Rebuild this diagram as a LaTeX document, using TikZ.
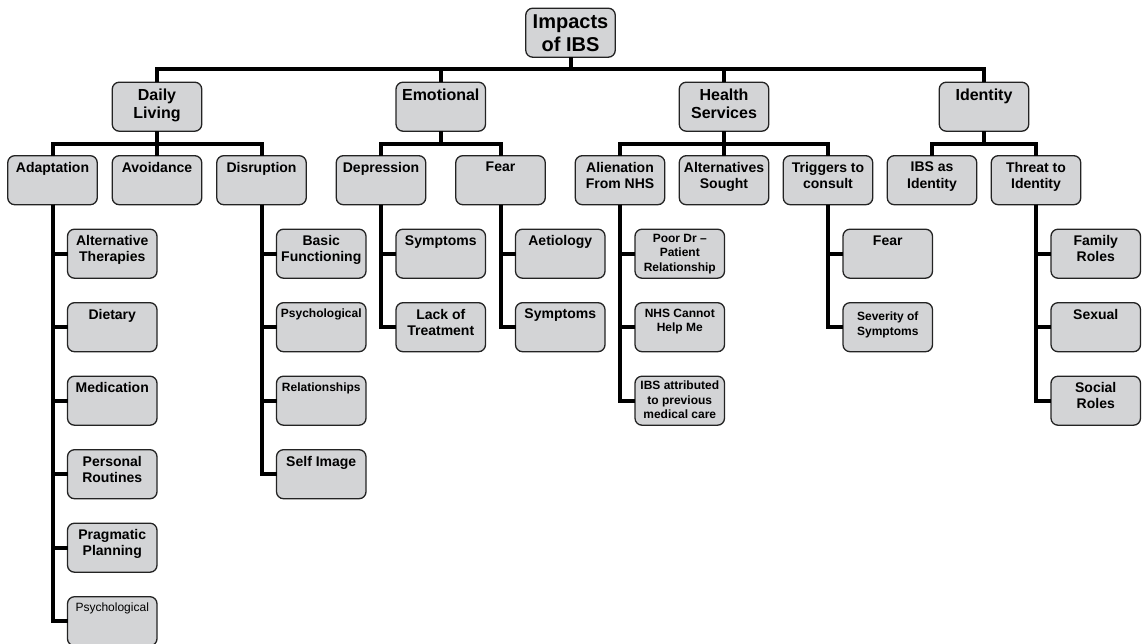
\documentclass[tikz,border=0pt]{standalone}
\usepackage{tikz}
\usepackage{xcolor}
\usepackage{fontspec}
\setmainfont{Liberation Sans}
\usetikzlibrary{positioning,calc}
\definecolor{boxgray}{RGB}{211,212,214}
\definecolor{edgegray}{RGB}{35,35,35}

\begin{document}
\begin{tikzpicture}[x=1pt, y=1pt, node distance={24.5pt and 15pt},
    main/.style = {draw=edgegray, line width=1.3pt, fill=boxgray, rounded corners=7pt, inner sep=0pt, outer sep=0pt,
        execute at begin node={\begin{minipage}[t][49pt][t]{89.5pt}\centering\vspace*{\boxgap}},
        execute at end node={\end{minipage}}},
    rootbox/.style = {main, font=\fontsize{20}{23}\selectfont\bfseries},
    catbox/.style = {main, font=\fontsize{16}{18.5}\selectfont\bfseries},
    subbox/.style = {main, font=\fontsize{14}{16.5}\selectfont\bfseries},
    leaf/.style = {main, font=\fontsize{14}{16}\selectfont\bfseries},
    smallleaf/.style = {main, font=\fontsize{12}{14.5}\selectfont\bfseries},
    plainleaf/.style = {main, font=\fontsize{12}{14.5}\selectfont},
    branch/.style = {draw=black, line width=4pt} ]
        \def\boxgap{6.5pt}
        \useasboundingbox (0,0) rectangle (1142,-643);

        \node[subbox] (DL1) at (52.5,-180.2) {Adaptation};
        \node[subbox] (DL2) [right = of DL1] {Avoidance};
        \node[subbox] (DL3) [right = of DL2] {Disruption};
        \node[subbox] (EM1) [right = 30pt of DL3] {Depression};
        \node[subbox] (EM2) [right = 30pt of EM1] {Fear};
        \node[subbox] (HS1) [right = 30pt of EM2] {Alienation\\From NHS};
        \node[subbox] (HS2) [right = 14.5pt of HS1] {Alternatives\\Sought};
        \node[subbox] (HS3) [right = 14.5pt of HS2] {Triggers to\\consult};
        \node[subbox] (ID1) [right = 14.5pt of HS3] {IBS as\\Identity};
        \node[subbox] (ID2) [right = 14.5pt of ID1] {Threat to\\Identity};

        \node[catbox] (DL) [above = of DL2] {Daily\\Living};
        \node[catbox] (EM) at ($(EM1)!.5!(EM2)+(0,73.5)$) {Emotional};
        \node[catbox] (HS) [above = of HS2] {Health\\Services};
        \node[catbox] (ID) at ($(ID1)!.5!(ID2)+(0,73.5)$) {Identity};

        \node[rootbox] (0) at ($(DL)!.5!(ID)+(0,74)$) {Impacts\\of IBS};

        \node[leaf] (DL1a) [below right = 24.5pt and 15pt of DL1.south] {Alternative\\Therapies};
        \node[leaf] (DL1b) [below = of DL1a] {Dietary};
        \node[leaf] (DL1c) [below = of DL1b] {Medication};
        \node[leaf] (DL1d) [below = of DL1c] {Personal\\Routines};
        \node[leaf] (DL1e) [below = of DL1d] {Pragmatic\\Planning};
        \node[plainleaf] (DL1f) [below = of DL1e] {Psychological};

        \node[leaf] (DL3a) [below right = 24.5pt and 15pt of DL3.south] {Basic\\Functioning};
        \node[smallleaf] (DL3b) [below = of DL3a] {Psychological};
        \node[smallleaf] (DL3c) [below = of DL3b] {Relationships};
        \node[leaf] (DL3d) [below = of DL3c] {Self Image};

        \node[leaf] (EM1a) [below right = 24.5pt and 15pt of EM1.south] {Symptoms};
        \node[leaf] (EM1b) [below = of EM1a] {Lack of\\Treatment};
        \node[leaf] (EM2a) [below right = 24.5pt and 15pt of EM2.south] {Aetiology};
        \node[leaf] (EM2b) [below = of EM2a] {Symptoms};

        \def\boxgap{5pt}
        \node[smallleaf] (HS1a) [below right = 24.5pt and 15pt of HS1.south] {Poor Dr --\\Patient\\Relationship};
        \node[smallleaf] (HS1b) [below = of HS1a] {\vspace{1pt}NHS Cannot\\Help Me};
        \node[smallleaf] (HS1c) [below = of HS1b] {IBS attributed\\to previous\\medical care};
        \def\boxgap{6.5pt}
        \node[leaf] (HS3a) [below right = 24.5pt and 15pt of HS3.south] {Fear};
        \node[smallleaf] (HS3b) [below = of HS3a] {\vspace{3pt}Severity of\\Symptoms};

        \node[leaf] (ID2a) [below right = 24.5pt and 15pt of ID2.south] {Family\\Roles};
        \node[leaf] (ID2b) [below = of ID2a] {Sexual};
        \node[leaf] (ID2c) [below = of ID2b] {Social\\Roles};

        \draw[branch] (0.south) -- ++(0,-12) -| (DL.north);
        \draw[branch] (0.south) -- ++(0,-12) -| (EM.north);
        \draw[branch] (0.south) -- ++(0,-12) -| (HS.north);
        \draw[branch] (0.south) -- ++(0,-12) -| (ID.north);

        \draw[branch] (DL.south) -- ++(0,-12.5) -| (DL1.north);
        \draw[branch] (DL.south) -- ++(0,-12.5) -| (DL3.north);
        \draw[branch] (DL.south) -- (DL2.north);
        \draw[branch] (EM.south) -- ++(0,-12.5) -| (EM1.north);
        \draw[branch] (EM.south) -- ++(0,-12.5) -| (EM2.north);
        \draw[branch] (HS.south) -- ++(0,-12.5) -| (HS1.north);
        \draw[branch] (HS.south) -- ++(0,-12.5) -| (HS3.north);
        \draw[branch] (HS.south) -- (HS2.north);
        \draw[branch] (ID.south) -- ++(0,-12.5) -| (ID1.north);
        \draw[branch] (ID.south) -- ++(0,-12.5) -| (ID2.north);

        \foreach \k in {a,b,c,d,e,f} \draw[branch] (DL1.south) |- (DL1\k.west);
        \foreach \k in {a,b,c,d} \draw[branch] (DL3.south) |- (DL3\k.west);
        \foreach \k in {a,b} \draw[branch] (EM1.south) |- (EM1\k.west);
        \foreach \k in {a,b} \draw[branch] (EM2.south) |- (EM2\k.west);
        \foreach \k in {a,b,c} \draw[branch] (HS1.south) |- (HS1\k.west);
        \foreach \k in {a,b} \draw[branch] (HS3.south) |- (HS3\k.west);
        \foreach \k in {a,b,c} \draw[branch] (ID2.south) |- (ID2\k.west);

    \end{tikzpicture}
\end{document}
